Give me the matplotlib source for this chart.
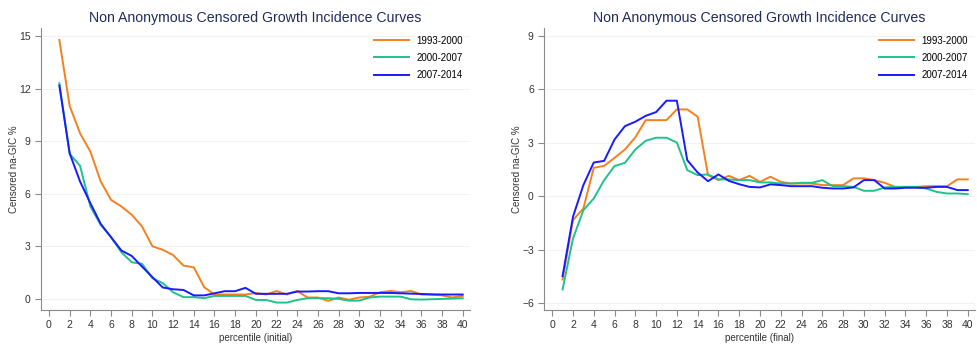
import numpy as np
import matplotlib.pyplot as plt

plt.rcParams['font.family'] = ['Liberation Sans', 'DejaVu Sans']

pct = list(range(1, 41))
periods = ['1993-2000', '2000-2007', '2007-2014']
colors = ['#f5801f', '#1fc28a', '#1a1aff']

# left panel: percentile (initial)
init_9300 = [14.77, 11.0, 9.45, 8.4, 6.7, 5.65, 5.27, 4.8, 4.13, 3.0,
             2.8, 2.5, 1.9, 1.8, 0.67, 0.25, 0.25, 0.25, 0.25, 0.34,
             0.25, 0.45, 0.25, 0.45, 0.08, 0.08, -0.11, 0.08, -0.05, 0.08,
             0.12, 0.38, 0.45, 0.38, 0.45, 0.25, 0.24, 0.2, 0.08, 0.17]
init_0007 = [12.3, 8.27, 7.6, 5.27, 4.22, 3.52, 2.66, 2.09, 2.0, 1.18,
             0.9, 0.38, 0.1, 0.1, 0.04, 0.17, 0.17, 0.17, 0.17, -0.06,
             -0.06, -0.21, -0.21, -0.06, 0.04, 0.04, 0.04, 0.0, -0.1, -0.1,
             0.08, 0.13, 0.13, 0.13, -0.02, -0.04, -0.02, 0.0, 0.02, 0.04]
init_0714 = [12.17, 8.3, 6.7, 5.46, 4.28, 3.52, 2.76, 2.45, 1.84, 1.24,
             0.65, 0.55, 0.51, 0.2, 0.2, 0.32, 0.44, 0.44, 0.63, 0.29,
             0.29, 0.29, 0.29, 0.42, 0.42, 0.44, 0.44, 0.32, 0.32, 0.34,
             0.34, 0.34, 0.34, 0.32, 0.3, 0.28, 0.26, 0.25, 0.25, 0.25]

# right panel: percentile (final)
fin_9300 = [-4.68, -1.35, -0.69, 1.59, 1.7, 2.15, 2.62, 3.3, 4.27, 4.27,
            4.27, 4.87, 4.87, 4.46, 1.18, 0.9, 1.14, 0.9, 1.14, 0.8,
            1.09, 0.8, 0.71, 0.71, 0.71, 0.62, 0.62, 0.62, 1.0, 1.0,
            0.9, 0.75, 0.52, 0.52, 0.52, 0.56, 0.56, 0.56, 0.94, 0.94]
fin_0007 = [-5.24, -2.38, -0.79, -0.13, 0.9, 1.69, 1.87, 2.62, 3.11, 3.28,
            3.28, 3.01, 1.46, 1.18, 1.22, 0.94, 0.94, 0.9, 0.9, 0.77,
            0.77, 0.71, 0.71, 0.75, 0.75, 0.9, 0.56, 0.56, 0.52, 0.3,
            0.3, 0.49, 0.52, 0.52, 0.52, 0.43, 0.24, 0.15, 0.15, 0.11]
fin_0714 = [-4.49, -1.16, 0.62, 1.89, 1.98, 3.18, 3.93, 4.18, 4.51, 4.72,
            5.36, 5.36, 2.02, 1.33, 0.84, 1.22, 0.86, 0.67, 0.52, 0.49,
            0.66, 0.62, 0.56, 0.56, 0.56, 0.47, 0.43, 0.43, 0.49, 0.9,
            0.9, 0.43, 0.43, 0.47, 0.47, 0.47, 0.52, 0.52, 0.34, 0.34]

fig = plt.figure(figsize=(9.77, 3.44), dpi=100)
ax1 = fig.add_axes([0.042, 0.099, 0.439, 0.82])
ax2 = fig.add_axes([0.557, 0.099, 0.441, 0.82])

panels = [
    (ax1, [init_9300, init_0007, init_0714], 'percentile (initial)',
     [0, 3, 6, 9, 12, 15], (-0.63, 15.46)),
    (ax2, [fin_9300, fin_0007, fin_0714], 'percentile (final)',
     [-6, -3, 0, 3, 6, 9], (-6.39, 9.45)),
]

for ax, series, xlab, yt, ylim in panels:
    for s, c, lab in zip(series, colors, periods):
        ax.plot(pct, s, color=c, lw=1.4, label=lab)
    ax.set_xlim(-0.77, 40.7)
    ax.set_ylim(*ylim)
    ax.set_xticks(range(0, 41, 2))
    ax.set_yticks(yt)
    ax.grid(axis='y', color='#f2f2f2', lw=0.8)
    ax.set_axisbelow(True)
    for sp in ['top', 'right']:
        ax.spines[sp].set_visible(False)
    for sp in ['left', 'bottom']:
        ax.spines[sp].set_color('#8a8a8a')
        ax.spines[sp].set_linewidth(0.8)
    ax.tick_params(colors='#8a8a8a', labelcolor='#333333', labelsize=7.5,
                   length=4, width=0.8)
    ax.set_xlabel(xlab, fontsize=7, color='#333333', labelpad=2)
    ax.set_ylabel('Censored na-GIC %', fontsize=7, color='#333333', labelpad=0)
    ax.set_title('Non Anonymous Censored Growth Incidence Curves',
                 fontsize=10.2, color='#1e2d5a', pad=4.5)
    ax.legend(loc='upper right', frameon=False, fontsize=7,
              handlelength=3.6, labelspacing=0.75, borderaxespad=0.3,
              bbox_to_anchor=(1.0, 0.997))

fig.savefig('out.png', dpi=100)
